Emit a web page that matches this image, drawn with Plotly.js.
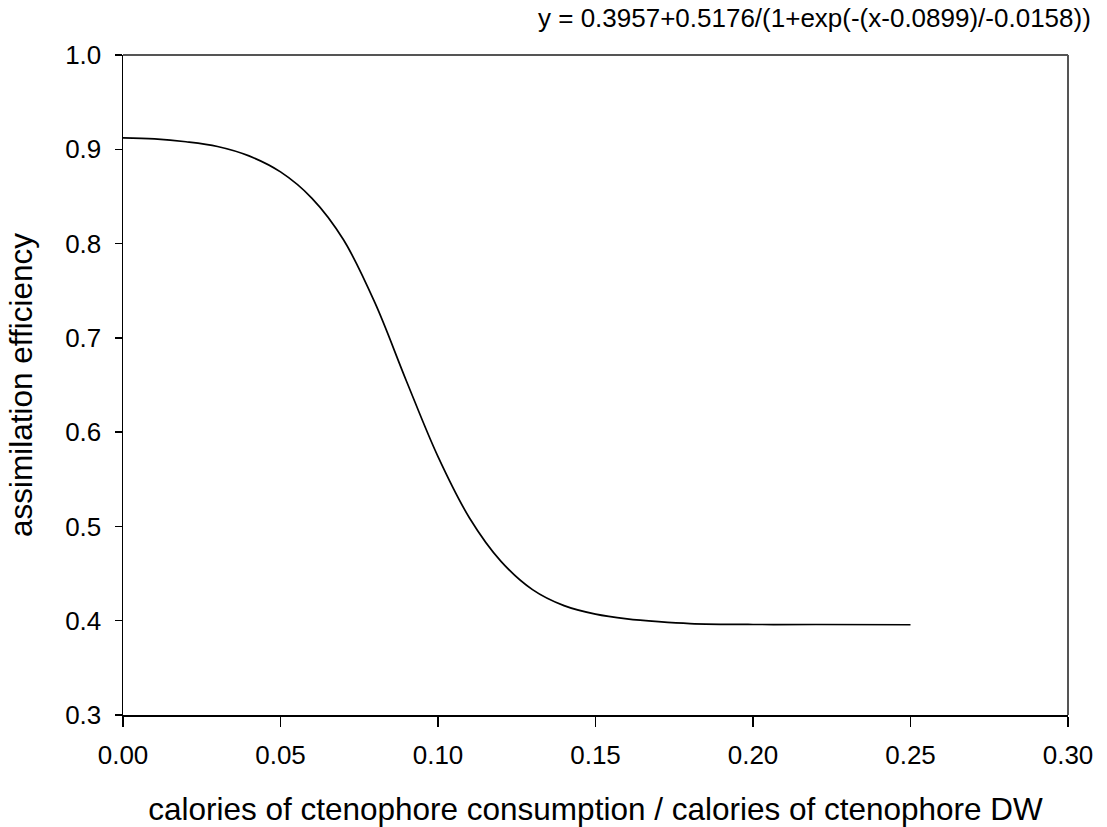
<!DOCTYPE html>
<html>
<head>
<meta charset="utf-8">
<script src="https://cdn.plot.ly/plotly-3.0.1.min.js"></script>
<style>html,body{margin:0;padding:0;background:#fff;}#chart{width:1107px;height:827px;}</style>
</head>
<body>
<div id="chart"></div>
<script>
// Values
const ratio = [0.00, 0.01, 0.02, 0.03, 0.04, 0.05, 0.06, 0.07, 0.08, 0.09, 0.10, 0.11, 0.12, 0.13, 0.14, 0.15, 0.16, 0.17, 0.18, 0.20, 0.22, 0.25];
const efficiency = [0.912, 0.911, 0.908, 0.903, 0.893, 0.876, 0.848, 0.804, 0.737, 0.654, 0.574, 0.509, 0.463, 0.433, 0.416, 0.407, 0.402, 0.399, 0.397, 0.396, 0.396, 0.3957];
const xTicks = [0.00, 0.05, 0.10, 0.15, 0.20, 0.25, 0.30];
const xTickText = ["0.00", "0.05", "0.10", "0.15", "0.20", "0.25", "0.30"];
const yTicks = [0.3, 0.4, 0.5, 0.6, 0.7, 0.8, 0.9, 1.0];
const yTickText = ["0.3", "0.4", "0.5", "0.6", "0.7", "0.8", "0.9", "1.0"];
const equation = "y = 0.3957+0.5176/(1+exp(-(x-0.0899)/-0.0158))";

const font = "Liberation Sans, Arial, sans-serif";
const trace = {
  x: ratio, y: efficiency, type: "scatter", mode: "lines",
  line: {color: "#000", width: 1.7, shape: "spline", smoothing: 1.0},
  hoverinfo: "skip", showlegend: false
};
const layout = {
  width: 1107, height: 827,
  margin: {l: 123, r: 39, t: 55, b: 112},
  paper_bgcolor: "#fff", plot_bgcolor: "#fff",
  font: {family: font, color: "#000", size: 26},
  xaxis: {
    range: [0, 0.30], tickvals: xTicks, ticktext: xTickText,
    showgrid: false, zeroline: false, showline: true, linecolor: "#000", linewidth: 1.5,
    ticks: "outside", ticklen: 10, tickwidth: 1.5, tickcolor: "#000",
    ticklabelstandoff: 6,
    tickfont: {family: font, size: 26},
    title: {text: "calories of ctenophore consumption / calories of ctenophore DW", font: {family: font, size: 31.5}, standoff: 29}
  },
  yaxis: {
    range: [0.3, 1.0], tickvals: yTicks, ticktext: yTickText,
    showgrid: false, zeroline: false, showline: true, linecolor: "#000", linewidth: 1.5,
    ticks: "outside", ticklen: 7, tickwidth: 1.5, tickcolor: "#000",
    ticklabelstandoff: 8,
    tickfont: {family: font, size: 26},
    title: {text: "assimilation efficiency", font: {family: font, size: 31.5}, standoff: 23}
  },
  shapes: [
    {type: "line", xref: "paper", yref: "paper", x0: 0, x1: 1, y0: 1, y1: 1, line: {color: "#555", width: 2}},
    {type: "line", xref: "paper", yref: "paper", x0: 1, x1: 1, y0: 0, y1: 1, line: {color: "#555", width: 2}}
  ],
  annotations: [
    {text: equation, xref: "paper", yref: "paper", x: 1.026, y: 1.0, xanchor: "right", yanchor: "bottom", yshift: 20,
     showarrow: false, font: {family: font, size: 26, color: "#000"}}
  ]
};
Plotly.newPlot("chart", [trace], layout, {displayModeBar: false, staticPlot: true});
</script>
</body>
</html>
